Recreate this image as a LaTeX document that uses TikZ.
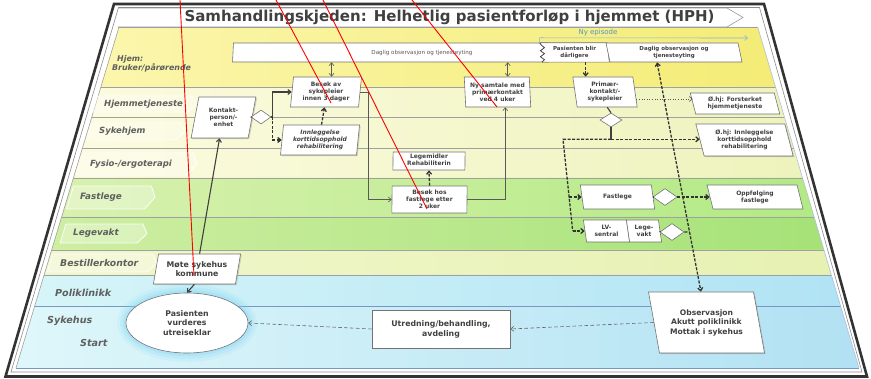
\documentclass[tikz,border=0pt]{standalone}
\usepackage{fontspec}
\setmainfont{DejaVu Sans}
\usetikzlibrary{arrows.meta,shapes.geometric,calc,shadows}
\definecolor{hjemL}{RGB}{251,246,172}
\definecolor{hjemR}{RGB}{244,236,118}
\definecolor{kommL}{RGB}{252,251,224}
\definecolor{kommR}{RGB}{238,243,188}
\definecolor{fastL}{RGB}{216,241,174}
\definecolor{fastR}{RGB}{178,234,132}
\definecolor{legeL}{RGB}{206,238,162}
\definecolor{legeR}{RGB}{166,226,120}
\definecolor{bestL}{RGB}{241,247,204}
\definecolor{bestR}{RGB}{230,241,178}
\definecolor{poliL}{RGB}{214,245,248}
\definecolor{poliR}{RGB}{176,227,244}
\definecolor{sykL}{RGB}{222,247,250}
\definecolor{sykR}{RGB}{178,225,243}
\definecolor{lanegray}{RGB}{160,160,160}
\definecolor{laneblue}{RGB}{120,150,200}
\definecolor{txtgray}{RGB}{65,65,65}
\definecolor{labgray}{RGB}{95,95,95}
\definecolor{nyblue}{RGB}{80,150,200}

\newcommand\lanefill[4]{%
 \pgfmathsetmacro\myLa{441-0.30206*(#1+1039)}%
 \pgfmathsetmacro\myRa{441+0.29709*(#1+1039)}%
 \pgfmathsetmacro\myLb{441-0.30206*(#2+1039)}%
 \pgfmathsetmacro\myRb{441+0.29709*(#2+1039)}%
 \shade[left color=#3,right color=#4] (\myLa,#1) -- (\myRa,#1) -- (\myRb,#2) -- (\myLb,#2) -- cycle;}
\newcommand\laneline[2]{%
 \pgfmathsetmacro\myLa{441-0.30206*(#1+1039)}%
 \pgfmathsetmacro\myRa{441+0.29709*(#1+1039)}%
 \draw[#2] (\myLa,#1) -- (\myRa,#1);}
\newcommand\chev[4]{%
 \pgfmathsetmacro\myCm{(#3+#4)/2}%
 \pgfmathsetmacro\myCs{(441-#1)/(\myCm+1039)*(#4-#3)/2}%
 \filldraw[fill=white,fill opacity=0.3,draw=white,draw opacity=0.85,line width=0.9pt]
 (#1+\myCs,#3) -- (#2-7+\myCs,#3) -- (#2,\myCm) -- (#2-7-\myCs,#4) -- (#1-\myCs,#4) -- cycle;}

\begin{document}
\begin{tikzpicture}[x=1pt,y=-1pt,
 box/.style={draw=black!55,fill=white,line width=0.6pt,inner sep=0pt},
 shbox/.style={box,drop shadow={shadow xshift=1.2pt,shadow yshift=-1.2pt,opacity=0.3}},
 bt/.style={align=center,text=txtgray,inner sep=0pt,font=\fontsize{6}{7}\selectfont\bfseries},
 lanetxt/.style={anchor=west,text=labgray,inner sep=0pt},
 dia/.style={diamond,draw=black!55,fill=white,inner sep=0pt,line width=0.6pt},
 arrowhd/.style={-{Straight Barb[length=3pt,width=5pt]}},
 dtiphd/.style={{Straight Barb[length=3pt,width=5pt]}-{Straight Barb[length=3pt,width=5pt]}},
 thn/.style={black!65,line width=0.6pt},
 tsol/.style={black!75,line width=1.1pt},
 tdash/.style={black!80,line width=1.3pt,dash pattern=on 3pt off 1.5pt},
 ldash/.style={black!60,line width=0.6pt,dash pattern=on 3.5pt off 2.5pt},
 redl/.style={red,line width=0.9pt}]
\useasboundingbox (0,0) rectangle (871,379);
\fill[white] (0,0) rectangle (871,379);

% lanes
\lanefill{27}{87}{hjemL}{hjemR}
\lanefill{87}{178}{kommL}{kommR}
\lanefill{178}{217}{fastL}{fastR}
\lanefill{217}{250}{legeL}{legeR}
\lanefill{250}{275}{bestL}{bestR}
\lanefill{275}{306}{poliL}{poliR}
\lanefill{306}{368}{sykL}{sykR}
\laneline{27}{lanegray,line width=0.6pt}
\laneline{87}{lanegray,line width=0.8pt}
\laneline{117}{lanegray,line width=0.8pt}
\laneline{148}{lanegray,line width=0.8pt}
\laneline{178}{lanegray,line width=0.8pt}
\laneline{217}{lanegray,line width=0.8pt}
\laneline{250}{lanegray,line width=0.8pt}
\laneline{275}{lanegray,line width=0.8pt}
\laneline{306}{laneblue,line width=0.8pt}
\laneline{368}{laneblue,line width=0.8pt}
\draw[lanegray,line width=0.6pt] (119,27) -- (16,368);
\draw[laneblue!60,line width=0.6pt] (757.7,27) -- (859,368);

% title band
\draw[black!40,line width=0.6pt,fill=white] (119,8) -- (727,8) -- (743,17.5) -- (727,27) -- (117.5,27);
\node[font=\fontsize{15}{17}\selectfont\bfseries,text=black!75,inner sep=0pt] (title) at (449.5,17.5) {Samhandlingskjeden: Helhetlig pasientforløp i hjemmet (HPH)};

% lane labels
\node[lanetxt,font=\fontsize{7.9}{9}\selectfont\bfseries\itshape] (lhj1) at (117,59.5) {Hjem:};
\node[lanetxt,font=\fontsize{7.9}{9}\selectfont\bfseries\itshape] (lhj2) at (112,67.5) {Bruker/pårørende};
\chev{95}{197}{96}{112}
\node[lanetxt,font=\fontsize{8.5}{10}\selectfont\bfseries\itshape] (lhjt) at (104,104) {Hjemmetjeneste};
\chev{90}{185}{123}{140}
\node[lanetxt,font=\fontsize{8.5}{10}\selectfont\bfseries\itshape] (lsyk) at (99,131.5) {Sykehjem};
\chev{80}{197}{153}{175}
\node[lanetxt,font=\fontsize{8.5}{10}\selectfont\bfseries\itshape] (lfys) at (90,164) {Fysio-/ergoterapi};
\chev{70}{155}{186}{209}
\node[lanetxt,font=\fontsize{8.8}{10}\selectfont\bfseries\itshape] (lfas) at (80,197.5) {Fastlege};
\chev{63}{147}{224}{243}
\node[lanetxt,font=\fontsize{8.8}{10}\selectfont\bfseries\itshape] (lleg) at (73,233.5) {Legevakt};
\chev{50}{157}{254}{272}
\node[lanetxt,font=\fontsize{9.3}{10}\selectfont\bfseries\itshape] (lbes) at (60,263) {Bestillerkontor};
\node[lanetxt,font=\fontsize{9.6}{11}\selectfont\bfseries\itshape] (lpol) at (55,293) {Poliklinikk};
\node[lanetxt,font=\fontsize{9.6}{11}\selectfont\bfseries\itshape] (lsh) at (47,321) {Sykehus};
\node[lanetxt,font=\fontsize{9.6}{11}\selectfont\bfseries\itshape] (lst) at (80,343) {Start};

% Ny episode
\node[font=\fontsize{7}{8}\selectfont,text=nyblue,inner sep=0pt] (nyep) at (598,32.5) {Ny episode};

% Hjem boxes
\node[box,xslant=0.05,minimum width=316pt,minimum height=19pt] (dag1) at (391,52.5) {};
\node[bt,font=\fontsize{5.6}{6.5}\selectfont,text=black!65] (dag1t) at (422,52.5) {Daglig observasjon og tjenesteyting};
\node[fill=white,inner sep=0pt,xslant=-0.12,minimum width=67pt,minimum height=19pt] (pas) at (574.5,52.5) {};
\draw[black!55,line width=0.6pt] (pas.north west) -- (pas.north east) -- (pas.south east) -- (pas.south west);
\draw[black!80,line width=0.7pt] (pas.south west) -- ++(2.5,-2.5) -- ++(-4,-3) -- ++(4,-3) -- ++(-4,-3) -- ++(4,-3) -- ++(-3,-2.5) -- (pas.north west);
\node[bt,font=\fontsize{5.5}{6.4}\selectfont\bfseries] (past) at (pas) {Pasienten blir\\dårligere};
\node[box,xslant=-0.21,minimum width=132pt,minimum height=19pt] (dag2) at (674,52.5) {};
\node[bt,font=\fontsize{5.5}{6.4}\selectfont\bfseries] (dag2t) at (dag2) {Daglig observasjon og\\tjenesteyting};
\coordinate (nyend) at (748,38);
\draw[nyblue!70,line width=0.6pt,arrowhd] (pas.north west) -- ++(0,-5) -- (nyend);

% kommune boxes
\node[shbox,xslant=0.19,minimum width=57pt,minimum height=41pt] (kon) at (223.5,117.5) {};
\node[bt] (kont) at (kon) {Kontakt-\\person/-\\enhet};
\node[dia,minimum width=20pt,minimum height=14pt] (d1) at (261,117) {};
\node[box,xslant=0.10,minimum width=68pt,minimum height=30pt] (bes1) at (326,92) {};
\node[bt] (bes1t) at (bes1) {Besøk av\\sykepleier\\innen 3 dager};
\node[shbox,xslant=0.10,minimum width=76pt,minimum height=30pt] (inn) at (320,140) {};
\node[bt,font=\fontsize{6}{7}\selectfont\bfseries\itshape] (innt) at (inn) {Innleggelse\\korttidsopphold\\rehabilitering};
\node[box,xslant=-0.05,minimum width=65pt,minimum height=30pt] (nys) at (497.5,92) {};
\node[bt] (nyst) at (nys) {Ny samtale med\\primærkontakt\\ved 4 uker};
\node[box,xslant=-0.145,minimum width=60pt,minimum height=30pt] (pri) at (605,92) {};
\node[bt] (prit) at (pri) {Primær-\\kontakt/-\\sykepleier};
\node[dia,minimum width=22pt,minimum height=14pt] (d2) at (611,120) {};
\node[box,xslant=-0.26,minimum width=84pt,minimum height=21pt] (oh1) at (735,103.5) {};
\node[bt] (oh1t) at (oh1) {Ø.hj: Forsterket\\hjemmetjeneste};
\node[shbox,xslant=-0.26,minimum width=89pt,minimum height=32pt] (oh2) at (744.5,140) {};
\node[bt] (oh2t) at (oh2) {Ø.hj: Innleggelse\\korttidsopphold\\rehabilitering};
\node[box,xslant=0.01,minimum width=72pt,minimum height=18pt] (leg) at (429,161) {};
\node[bt] (legt) at ($(leg)+(0,-1.5)$) {Legemidler\\Rehabiliterin};
\node[box,xslant=0.01,minimum width=75pt,minimum height=27pt] (bes2) at (429.5,199.5) {};
\node[bt] (bes2t) at (bes2) {Besøk hos\\fastlege etter\\2 uker};
\node[box,xslant=-0.14,minimum width=71pt,minimum height=24pt] (fas) at (617.5,197) {};
\node[bt] (fast) at (fas) {Fastlege};
\node[dia,minimum width=24pt,minimum height=17pt] (d3) at (665,197) {};
\node[box,xslant=-0.25,minimum width=90pt,minimum height=24pt] (opp) at (755,197) {};
\node[bt] (oppt) at (opp) {Oppfølging\\fastlege};
\node[box,xslant=-0.145,minimum width=43pt,minimum height=22pt] (lvs) at (606.5,231) {};
\node[bt] (lvst) at (lvs) {LV-\\sentral};
\node[box,xslant=-0.145,minimum width=32pt,minimum height=22pt] (lvk) at (644,231) {};
\node[bt] (lvkt) at (lvk) {Lege-\\vakt};
\node[dia,minimum width=24pt,minimum height=17pt] (d4) at (672,232) {};

% hospital
\node[shbox,xslant=-0.18,minimum width=105pt,minimum height=61pt] (obs) at (706.5,322.5) {};
\node[bt,font=\fontsize{7.6}{9.5}\selectfont\bfseries] (obst) at (obs) {Observasjon\\Akutt poliklinikk\\Mottak i sykehus};
\node[shbox,minimum width=138pt,minimum height=38pt] (utr) at (441,329) {};
\node[bt,font=\fontsize{7.8}{10}\selectfont\bfseries] (utrt) at (utr) {Utredning/behandling,\\avdeling};
\foreach \r/\o in {9/0.10,6/0.15,3/0.22}
  \fill[cyan!55!white,opacity=\o] (187,323) ellipse [x radius={61+\r}, y radius={30+\r}];
\node[ellipse,draw=black!55,fill=white,line width=0.6pt,minimum width=122pt,minimum height=60pt,inner sep=0pt] (ell) at (187,323) {};
\node[bt,font=\fontsize{7.8}{9.5}\selectfont\bfseries] (ellt) at (ell) {Pasienten\\vurderes\\utreiseklar};
\node[shbox,xslant=0.17,minimum width=82pt,minimum height=30pt] (mot) at (197,269) {};
\node[bt,font=\fontsize{7.8}{9.5}\selectfont\bfseries] (mott) at (mot) {Møte sykehus\\kommune};

% connectors
\coordinate (b1n) at ($(bes1.north)+(4,0)$);
\draw[thn,dtiphd] (b1n) -- (b1n |- dag1.south);
\coordinate (nyn) at ($(nys.north)+(11,0)$);
\draw[thn,dtiphd] (nyn) -- (nyn |- dag1.south);
\coordinate (pas1) at ($(pas.south)+(10,0)$);
\draw[tdash,arrowhd] (pas1) -- (pas1 |- pri.north);
\draw[tsol] (kon.east) -- (d1.west);
\coordinate (j1) at ($(d1.east)+(1.5,0)$);
\draw[tsol] (d1.east) -- (j1);
\draw[tsol,arrowhd] (j1) |- (bes1.west);
\draw[tdash,arrowhd] (j1) |- (inn.west);
\draw[tdash,arrowhd] (inn.north) -- (bes1.south);
\draw[thn,arrowhd] (bes1.east) -- ++(8,0) |- (bes2.west);
\draw[tdash,arrowhd] (bes2.north) -- (leg.south);
\coordinate (nys2) at ($(nys.south)+(7,0)$);
\draw[thn,arrowhd] (bes2.east) -| (nys2);
\draw[tsol] (pri.south) -- (d2.north);
\coordinate (j2) at ($(d2.south)+(0,12)$);
\draw[tsol] (d2.south) -- (j2);
\draw[tdash,arrowhd] (j2) -- (j2 -| oh2.west);
\coordinate (j3) at ($(j2)+(-48,0)$);
\coordinate (j4) at ($(lvs.west)+(-12,0)$);
\draw[tdash] (j2) -- (j3) -- (j4);
\draw[tdash,arrowhd] (j4) -- (lvs.west);
\coordinate (j5) at ($(j3)!0.63!(j4)$);
\draw[tdash,arrowhd] (j5) -- (j5 -| fas.west);
\draw[thn,dotted,arrowhd] ($(pri.east)+(1,7)$) -- ($(oh1.west)+(0,-4.5)$);
\draw[tsol] (fas.east) -- (d3.west);
\draw[tdash,arrowhd] (d3.east) -- (opp.west);
\draw[tsol] (lvk.east) -- (d4.west);
\coordinate (t1) at ($(dag2.south)+(-19,0)$);
\draw[tdash,dtiphd] (t1) -- (obs.north);
\coordinate (t2) at ($(t1)!0.739!(obs.north)$);
\draw[tdash] (d4.east) -- (t2);
\draw[ldash,arrowhd] (obs.west) -- (utr.east);
\draw[ldash,arrowhd] (utr.west) -- (ell.east);
\draw[tsol,arrowhd] (mot.south) -- (ell.north);
\draw[tsol,arrowhd] (mot.north) -- (kon.south);

% frame
\draw[black!45,line width=0.6pt] (118.5,7.5) -- (759.5,7.5) -- (862,372) -- (11,372) -- cycle;
\draw[black!80,line width=2.6pt] (114,4) -- (764,4) -- (867,376.5) -- (5.5,376.5) -- cycle;

% red marks
\coordinate (r1a) at (180,0); \coordinate (r1b) at (194,276);
\coordinate (r2a) at (276,0); \coordinate (r2b) at (331,103);
\coordinate (r3a) at (323,0); \coordinate (r3b) at (427,209);
\coordinate (r4a) at (412,0); \coordinate (r4b) at (497,107);
\draw[redl] (r1a) -- (r1b);
\draw[redl] (r2a) -- (r2b);
\draw[redl] (r3a) -- (r3b);
\draw[redl] (r4a) -- (r4b);
\end{tikzpicture}
\end{document}
